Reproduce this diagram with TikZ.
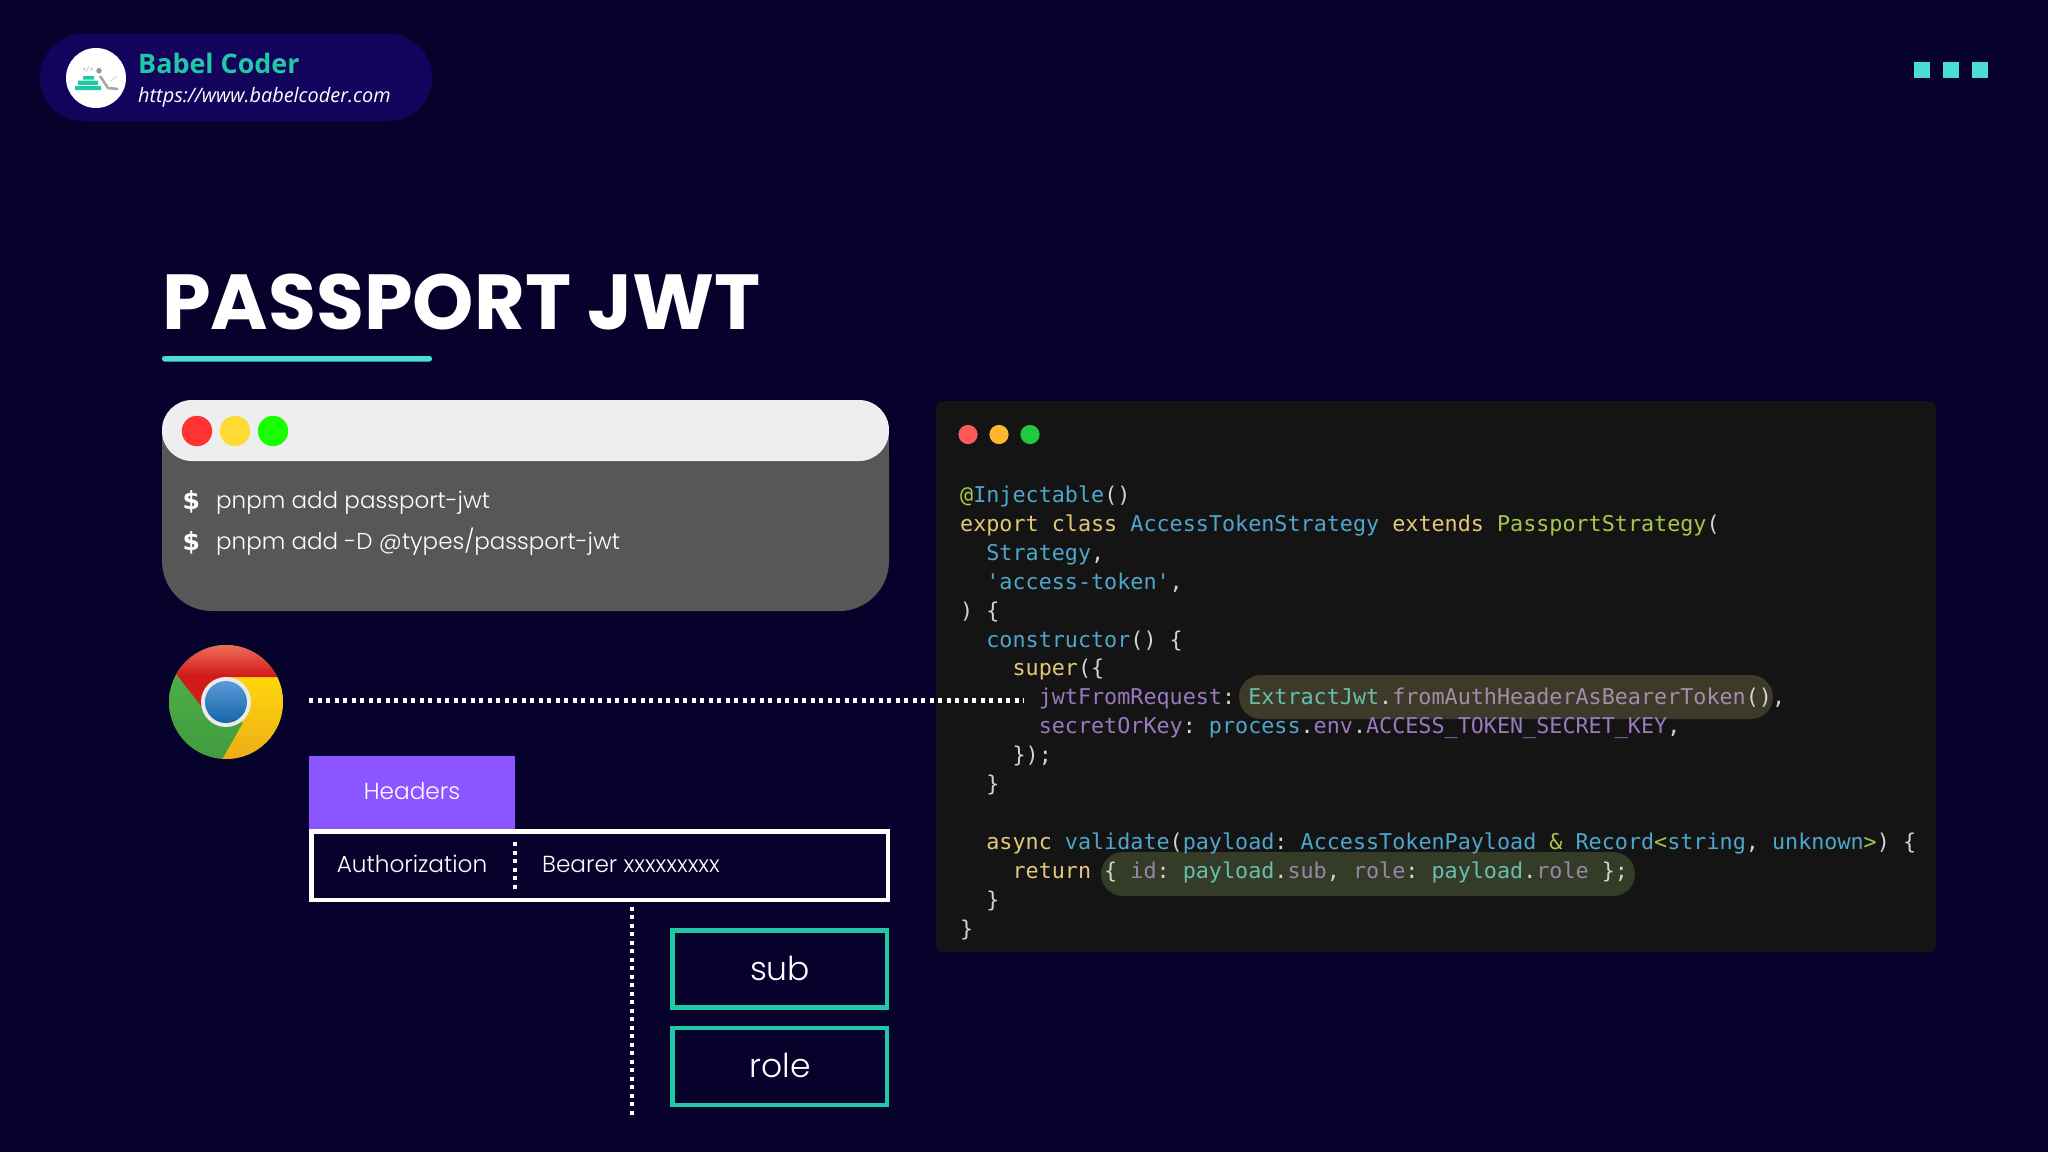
\documentclass[tikz,border=0pt]{standalone}
\usepackage{fontspec}
\setmainfont{Poppins}
\newfontfamily\poplight{Poppins Light}
\newfontfamily\codefont{DejaVu Sans Mono}
\newfontfamily\opensans{Open Sans}
\newfontfamily\dollarfont{DejaVu Sans}
\definecolor{bgc}{HTML}{06022B}
\definecolor{pillc}{HTML}{13035C}
\definecolor{tealc}{HTML}{1FC9A5}
\definecolor{cyanc}{HTML}{4ADDD6}
\definecolor{panelc}{HTML}{141414}
\definecolor{hlone}{HTML}{3E3A2A}
\definecolor{hltwo}{HTML}{343C28}
\definecolor{kw}{HTML}{E3C878}
\definecolor{blu}{HTML}{4FA6CC}
\definecolor{grn}{HTML}{A8C84A}
\definecolor{pur}{HTML}{9C78BE}
\definecolor{pln}{HTML}{D4D4CC}
\definecolor{tlc}{HTML}{67BFB0}
\definecolor{pal}{HTML}{A58CAA}
\definecolor{pag}{HTML}{9488A8}
\definecolor{barc}{HTML}{EDEEF0}
\definecolor{termc}{HTML}{575757}
\definecolor{violetc}{HTML}{8B55FF}
\tikzset{
  codetext/.style={anchor=base west,inner sep=0pt,text=pln,font=\codefont\frenchspacing\fontsize{21.75}{26}\selectfont},
  uitext/.style={anchor=base,inner sep=0pt,text=white,font=\poplight\fontsize{23.2}{28}\selectfont},
  termtext/.style={anchor=base west,inner sep=0pt,text=white,font=\poplight\fontsize{23}{28}\selectfont},
  dollartext/.style={anchor=base west,inner sep=0pt,text=white,font=\dollarfont\bfseries\fontsize{25}{30}\selectfont},
  tealbox/.style={draw=tealc,line width=4.5pt,minimum width=214.5pt,minimum height=77pt,inner sep=0pt},
  boxlabel/.style={anchor=base,inner sep=0pt,text=white,font=\poplight\fontsize{33}{40}\selectfont},
  dots/.style={draw=white,line width=4.5pt,dash pattern=on 4pt off 4.5pt},
  sq/.style={fill=cyanc,draw=none,minimum size=16pt,inner sep=0pt},
}
\newcommand\codeln[4]{\node[codetext] (#1) at ({960+13.09*#3},{502.5+28.9*#2}) {#4};}
\newcommand\ck[2]{\textcolor{#1}{#2}}
\begin{document}
\begin{tikzpicture}[x=1pt,y=-1pt]
\useasboundingbox (0,0) rectangle (2048,1152);
\fill[bgc] (0,0) rectangle (2048,1152);
% brand pill
\fill[pillc,rounded corners=43pt] (40,34) rectangle (432,121);
\fill[white] (96,78) circle (30pt);
\fill[tealc] (83,76) rectangle (94,79.5) (78,80.5) rectangle (98,85) (75,86) rectangle (101,90);
\fill[gray!80] (99,70.7) circle (2.8pt);
\draw[gray!70,line width=2.6pt] (100,76) -- (108,88) -- (118,89);
\draw[gray!40,line width=.8pt] (110,81) -- (117,76.5);
\node[inner sep=0pt,text=gray!80,font=\codefont\fontsize{6}{7}\selectfont] (logotag) at (88,70) {</>};
\node[anchor=base west,inner sep=0pt,text=tealc,font=\opensans\bfseries\fontsize{26.9}{32}\selectfont] (brand) at (138,73) {Babel Coder};
\node[anchor=base west,inner sep=0pt,text=white,font=\opensans\itshape\fontsize{19.9}{24}\selectfont] (url) at (138,102) {https://www.babelcoder.com};
% squares
\node[sq] (sqa) at (1922,70) {};
\node[sq] (sqb) at (1951,70) {};
\node[sq] (sqc) at (1980,70) {};
% title
\node[anchor=base west,inner sep=0pt,text=white,font=\bfseries\fontsize{78}{90}\selectfont] (title) at (162,329) {PASSPORT JWT};
\fill[cyanc,rounded corners=2.5pt] (162,356) rectangle (432,361.5);
% terminal
\fill[termc,rounded corners=50pt] (162,405) rectangle (889,611);
\fill[termc] (162,431) rectangle (889,470);
\fill[barc,rounded corners=30pt] (162,400) rectangle (889,461);
\fill[red!80!white] (197,431) circle (15.2pt);
\fill[yellow!70!orange!80!white] (235,431) circle (15.2pt);
\fill[green!90!yellow] (273,431) circle (15.2pt);
\node[dollartext] (d1) at (182.5,509) {\$};
\node[termtext] (t1) at (216,508) {pnpm add passport-jwt};
\node[dollartext] (d2) at (182.5,550) {\$};
\node[termtext] (t2) at (216,549) {pnpm add -D @types/passport-jwt};
% code panel
\fill[panelc,rounded corners=8pt] (936,401) rectangle (1936,952);
\definecolor{mred}{HTML}{FF5A5A}\definecolor{mamb}{HTML}{FFB52E}\definecolor{mgrn}{HTML}{22C93E}
\fill[mred] (968,434.5) circle (9.6pt);
\fill[mamb] (999,434.5) circle (9.6pt);
\fill[mgrn] (1030,434.5) circle (9.6pt);
\fill[hlone,rounded corners=22pt] (1239,675) rectangle (1773,719);
\fill[hltwo,rounded corners=22pt] (1101,852) rectangle (1635,896);
\codeln{c0}{0}{0}{\ck{grn}{@}\ck{blu}{Injectable}()}
\codeln{c1}{1}{0}{\ck{kw}{export class} \ck{blu}{AccessTokenStrategy} \ck{kw}{extends} \ck{grn}{PassportStrategy}(}
\codeln{c2}{2}{2}{\ck{blu}{Strategy},}
\codeln{c3}{3}{2}{\ck{blu}{'access-token'},}
\codeln{c4}{4}{0}{) \{}
\codeln{c5}{5}{2}{\ck{blu}{constructor}() \{}
\codeln{c6}{6}{4}{\ck{kw}{super}(\{}
\codeln{c7}{7}{6}{\ck{pur}{jwtFromRequest}: \ck{tlc}{ExtractJwt}.\ck{pal}{fromAuthHeaderAsBearerToken}(),}
\codeln{c8}{8}{6}{\ck{pur}{secretOrKey}: \ck{blu}{process}.\ck{pur}{env}.\ck{pur}{ACCESS\_TOKEN\_SECRET\_KEY},}
\codeln{c9}{9}{4}{\});}
\codeln{c10}{10}{2}{\}}
\codeln{c12}{12}{2}{\ck{kw}{async} \ck{blu}{validate}(\ck{blu}{payload}: \ck{blu}{AccessTokenPayload} \ck{grn}{\&} \ck{blu}{Record}\ck{grn}{<}\ck{blu}{string}, \ck{blu}{unknown}\ck{grn}{>}) \{}
\codeln{c13}{13}{4}{\ck{kw}{return} \{ \ck{pag}{id}: \ck{tlc}{payload}.\ck{pag}{sub}, \ck{pag}{role}: \ck{tlc}{payload}.\ck{pag}{role} \};}
\codeln{c14}{14}{2}{\}}
\codeln{c15}{15}{0}{\}}
% chrome icon
\definecolor{gtop}{HTML}{55B44C}\definecolor{gbot}{HTML}{3F9A3C}
\definecolor{ytop}{HTML}{FFD60A}\definecolor{ybot}{HTML}{E8A21C}
\definecolor{rtop}{HTML}{EE6E58}\definecolor{rbot}{HTML}{CF1F1F}
\definecolor{btop}{HTML}{5A9BD8}\definecolor{bbot}{HTML}{1565A8}
\begin{scope}
\clip (226,702) circle (57pt);
\shade[top color=gtop,bottom color=gbot] (160,640) rectangle (290,765);
\shade[top color=ytop,bottom color=ybot] (226,677) -- (300,677) -- (300,780) -- (210.4,780) -- (243,723) -- (226,702) -- cycle;
\shade[top color=rtop,bottom color=rbot,middle color=red!80!black!90!white] (226,677) -- (300,677) -- (300,645) -- (153.6,645) -- (202,707) -- (226,702) -- cycle;
\end{scope}
\fill[black!8] (226,702) circle (25pt);
\shade[top color=btop,bottom color=bbot] (226,702) circle (21pt);
% dotted link from browser
\coordinate (linkA) at (309,700.5);
\coordinate (linkB) at (1024,700.5);
\draw[dots] (linkA) -- (linkB);
% headers
\node[fill=violetc,draw=none,minimum width=206pt,minimum height=73pt,inner sep=0pt] (headers) at (412,792.5) {};
\node[uitext] (headerstxt) at (412,799) {Headers};
\node[draw=white,line width=4.5pt,minimum width=576.5pt,minimum height=68.5pt,inner sep=0pt] (auth) at (599.5,865.5) {};
\node[uitext] (authk) at (412,872) {Authorization};
\node[uitext,anchor=base west] (authv) at (542,872) {Bearer xxxxxxxxx};
\coordinate (divA) at (515,842);
\coordinate (divB) at (515,889);
\draw[dots] (divA) -- (divB);
% claims
\node[tealbox] (sub) at (779.5,969) {};
\node[boxlabel] (subtxt) at (780,980) {sub};
\node[tealbox] (role) at (779.5,1066.5) {};
\node[boxlabel] (roletxt) at (780,1077) {role};
\coordinate (treeA) at (632,898);
\coordinate (treeB) at (632,1115);
\draw[dots] (treeA) -- (treeB);
\end{tikzpicture}
\end{document}
